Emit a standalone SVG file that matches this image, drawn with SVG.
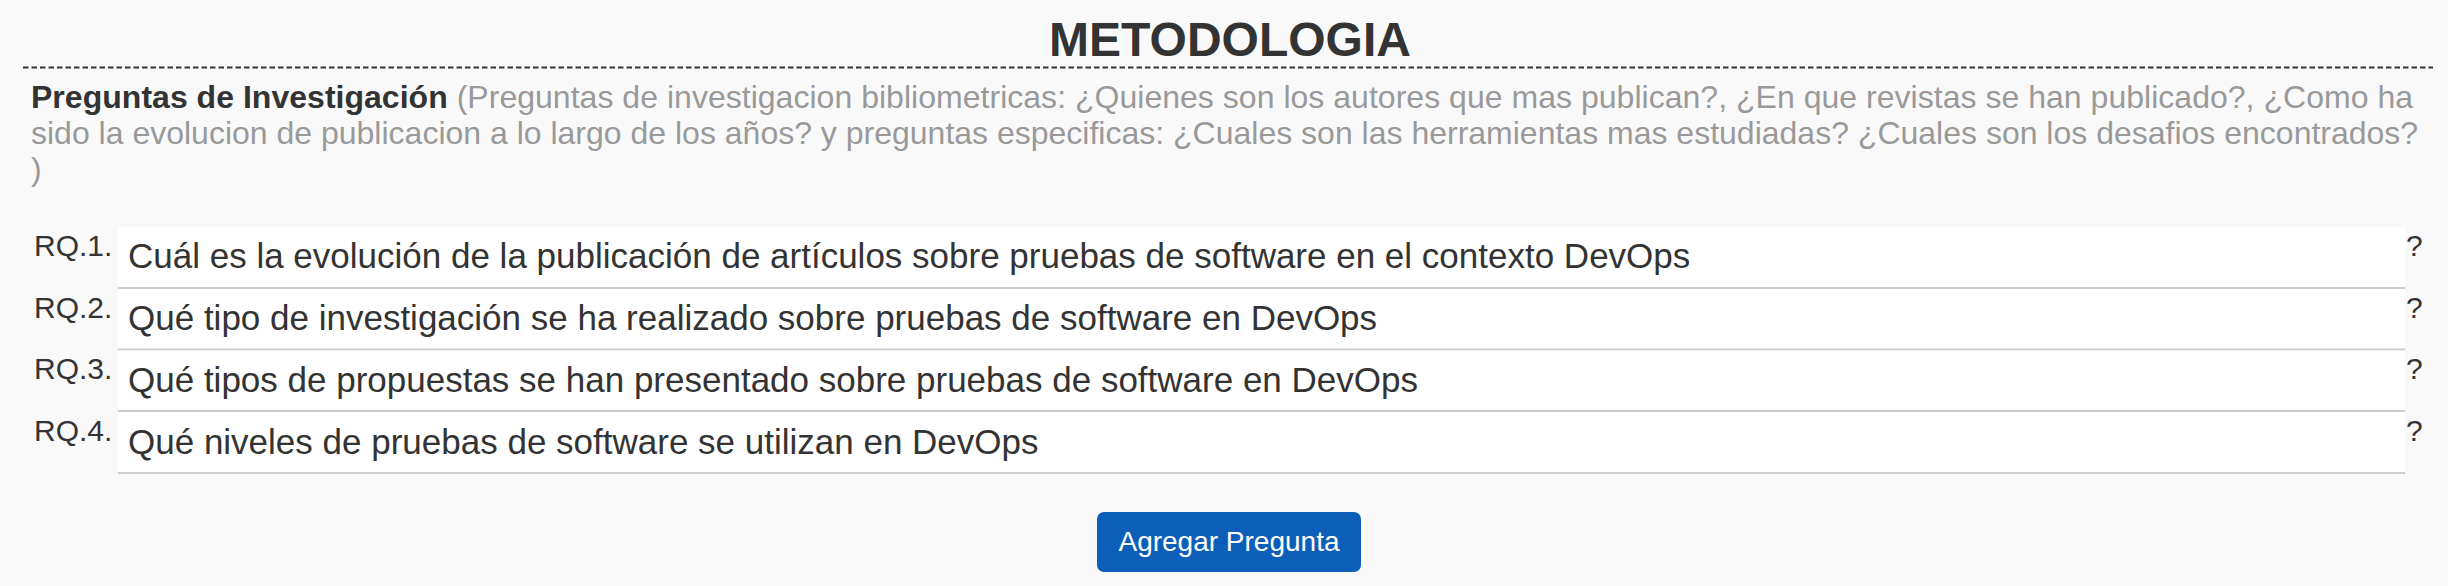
<svg xmlns="http://www.w3.org/2000/svg" width="2448" height="586" viewBox="0 0 2448 586">
<style>
text{font-family:"Liberation Sans",Arial,Helvetica,sans-serif}
.title{font-size:48px;font-weight:bold;fill:#333}
.lead{font-size:32px;fill:#999}
.lead .b{font-weight:bold;fill:#333}
.rq{font-size:30px;fill:#333}
.q{font-size:35px;fill:#333}
.mark{font-size:30px;fill:#333}
.row{fill:#fff}
.sep{stroke:#ccc;stroke-width:2}
.btn{fill:#0d5eb9}
.btntext{font-size:28px;fill:#fff}
</style>
<rect x="0" y="0" width="2448" height="586" fill="#f9f9f9"/>
<g id="title">
<text class="title" x="1230" y="56" text-anchor="middle">METODOLOGIA</text>
<line x1="23" y1="67.5" x2="2433" y2="67.5" stroke="#333" stroke-width="2" stroke-dasharray="5.5 3"/>
</g>
<g id="intro">
<text class="lead" x="31" y="108" textLength="2382" lengthAdjust="spacing"><tspan class="b">Preguntas de Investigación</tspan> (Preguntas de investigacion bibliometricas: ¿Quienes son los autores que mas publican?, ¿En que revistas se han publicado?, ¿Como ha</text>
<text class="lead" x="31" y="144">sido la evolucion de publicacion a lo largo de los años? y preguntas especificas: ¿Cuales son las herramientas mas estudiadas? ¿Cuales son los desafios encontrados?</text>
<text class="lead" x="31" y="180">)</text>
</g>
<g id="rq1">
<rect class="row" x="118" y="227" width="2287" height="60"/>
<line class="sep" x1="118" y1="288" x2="2405" y2="288"/>
<text class="rq" x="34" y="256">RQ.1.</text>
<text class="q" x="128" y="268">Cuál es la evolución de la publicación de artículos sobre pruebas de software en el contexto DevOps</text>
<text class="mark" x="2406" y="256">?</text>
</g>
<g id="rq2">
<rect class="row" x="118" y="289" width="2287" height="60"/>
<line class="sep" x1="118" y1="349.5" x2="2405" y2="349.5"/>
<text class="rq" x="34" y="317.5">RQ.2.</text>
<text class="q" x="128" y="330">Qué tipo de investigación se ha realizado sobre pruebas de software en DevOps</text>
<text class="mark" x="2406" y="317.5">?</text>
</g>
<g id="rq3">
<rect class="row" x="118" y="350.5" width="2287" height="60"/>
<line class="sep" x1="118" y1="411" x2="2405" y2="411"/>
<text class="rq" x="34" y="379">RQ.3.</text>
<text class="q" x="128" y="392">Qué tipos de propuestas se han presentado sobre pruebas de software en DevOps</text>
<text class="mark" x="2406" y="379">?</text>
</g>
<g id="rq4">
<rect class="row" x="118" y="412" width="2287" height="60"/>
<line class="sep" x1="118" y1="473" x2="2405" y2="473"/>
<text class="rq" x="34" y="441">RQ.4.</text>
<text class="q" x="128" y="454">Qué niveles de pruebas de software se utilizan en DevOps</text>
<text class="mark" x="2406" y="441">?</text>
</g>
<g id="connectors"/>
<g id="add-button">
<rect class="btn" x="1097" y="512" width="264" height="60" rx="7"/>
<text class="btntext" x="1229" y="551" text-anchor="middle">Agregar Pregunta</text>
</g>
</svg>
